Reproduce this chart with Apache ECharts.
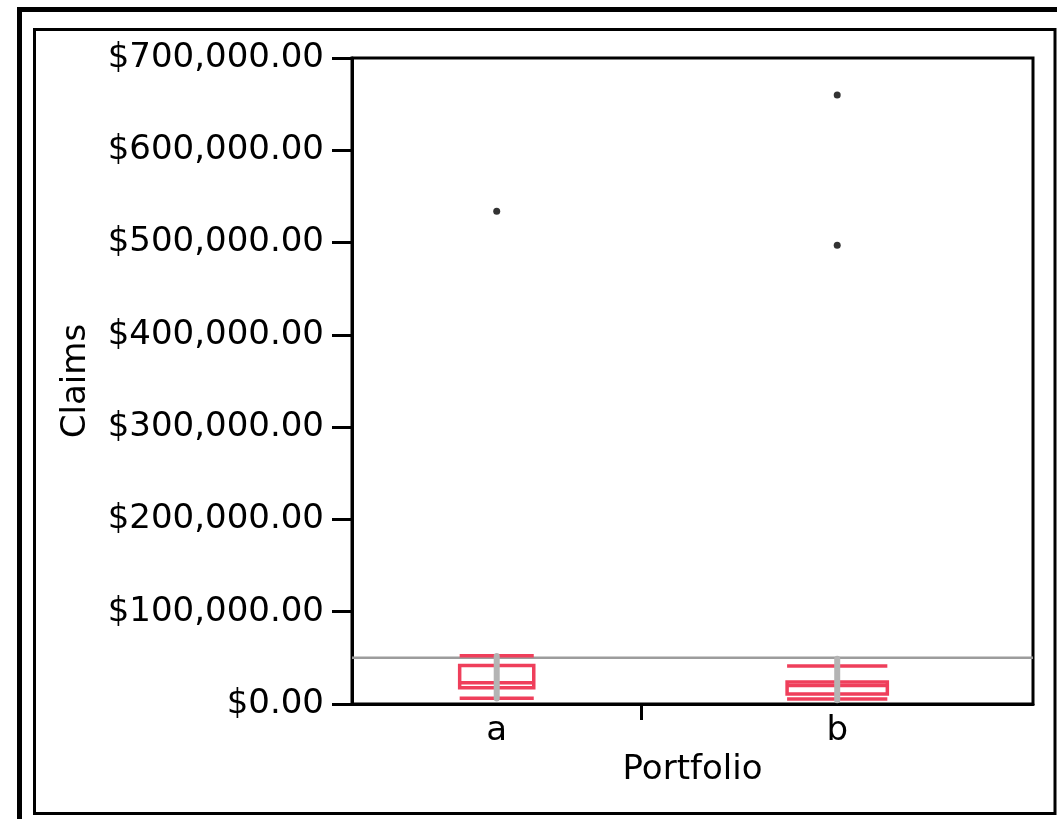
<!DOCTYPE html>
<html>
<head>
<meta charset="utf-8">
<script src="https://cdn.jsdelivr.net/npm/echarts@6/dist/echarts.min.js"></script>
<style>
  html, body { margin: 0; padding: 0; background: #fff; }
  #chart { width: 1057px; height: 819px; }
</style>
</head>
<body>
<div id="chart"></div>
<script>
// Claims by portfolio: quantile box plots, group widths proportional to group size
const categories = ['a', 'b'];
const groupCounts = [17, 23];
const p10 = [6100, 5400];
const q1 = [17700, 10900];
const median = [23100, 20100];
const q3 = [41800, 23900];
const p90 = [52200, 41300];
const pointLow = [6000, 4000];
const pointHigh = [52000, 49000];
const outlierGroup = [0, 1, 1];
const outlierValue = [534000, 660000, 497000];
const grandMean = 50000;
const yTicks = [0, 100000, 200000, 300000, 400000, 500000, 600000, 700000];

const FONT = 'DejaVu Sans';
const FS = 34;
const RED = '#EF3F5B';

// group spans along the x axis
const total = groupCounts.reduce((s, v) => s + v, 0);
const starts = [];
let acc = 0;
groupCounts.forEach(c => { starts.push(acc); acc += c; });
const centers = groupCounts.map((c, i) => starts[i] + c / 2);
const boundaries = starts.slice(1);

const boxData = categories.map((c, i) => [
  centers[i], groupCounts[i] * 0.128,
  p10[i], q1[i], median[i], q3[i], p90[i], pointLow[i], pointHigh[i]
]);
const outlierData = outlierValue.map((v, k) => [centers[outlierGroup[k]], v]);

function fmtMoney(v) {
  return '$' + v.toLocaleString('en-US', { minimumFractionDigits: 2, maximumFractionDigits: 2 });
}

function renderBox(params, api) {
  const cx = api.value(0);
  const hw = api.value(1);
  const left = api.coord([cx - hw, 0])[0];
  const right = api.coord([cx + hw, 0])[0];
  const mid = api.coord([cx, 0])[0];
  const y = k => api.coord([cx, api.value(k)])[1];
  const yP10 = y(2), yQ1 = y(3), yMed = y(4), yQ3 = y(5), yP90 = y(6), yLo = y(7), yHi = y(8);
  const red = { stroke: RED, lineWidth: 3.5, fill: null };
  const hLine = yy => ({ type: 'line', shape: { x1: left, y1: yy, x2: right, y2: yy }, style: red });
  return {
    type: 'group',
    children: [
      { type: 'line', shape: { x1: mid, y1: yP90, x2: mid, y2: yQ3 }, style: red },
      { type: 'line', shape: { x1: mid, y1: yQ1, x2: mid, y2: yP10 }, style: red },
      { type: 'rect', shape: { x: left, y: yQ3, width: right - left, height: yQ1 - yQ3 }, style: red },
      hLine(yMed),
      hLine(yP10),
      hLine(yP90),
      { type: 'line', shape: { x1: mid, y1: yHi, x2: mid, y2: yLo },
        style: { stroke: '#b4b4b4', lineWidth: 6, lineCap: 'round' } }
    ]
  };
}

const chart = echarts.init(document.getElementById('chart'), null, { renderer: 'canvas' });
chart.setOption({
  animation: false,
  backgroundColor: '#fff',
  textStyle: { fontFamily: FONT },
  graphic: [
    { type: 'rect', shape: { x: 19.5, y: 9.5, width: 1100, height: 900 },
      style: { fill: null, stroke: '#000', lineWidth: 5 }, silent: true },
    { type: 'rect', shape: { x: 34.5, y: 29.5, width: 1020.5, height: 784 },
      style: { fill: null, stroke: '#000', lineWidth: 3 }, silent: true }
  ],
  grid: {
    left: 352, right: 24, top: 58, bottom: 115,
    show: true, borderColor: '#000', borderWidth: 3, backgroundColor: 'transparent'
  },
  xAxis: {
    type: 'value',
    min: 0,
    max: total,
    name: 'Portfolio',
    nameLocation: 'middle',
    nameGap: 46,
    nameTextStyle: { fontSize: FS, color: '#000', fontFamily: FONT },
    axisLine: { show: true, lineStyle: { color: '#000', width: 3 } },
    axisTick: { show: true, customValues: boundaries, length: 16, lineStyle: { color: '#000', width: 3 } },
    axisLabel: {
      customValues: centers,
      margin: 10,
      fontSize: FS, color: '#000', fontFamily: FONT,
      formatter: v => {
        const i = centers.findIndex(c => Math.abs(c - v) < 1e-6);
        return i >= 0 ? categories[i] : '';
      }
    },
    splitLine: { show: false }
  },
  yAxis: {
    type: 'value',
    min: yTicks[0],
    max: yTicks[yTicks.length - 1],
    interval: yTicks[1] - yTicks[0],
    name: 'Claims',
    nameLocation: 'middle',
    nameGap: 259,
    nameTextStyle: { fontSize: FS, color: '#000', fontFamily: FONT },
    axisLine: { show: true, lineStyle: { color: '#000', width: 3 } },
    axisTick: { show: true, length: 20, lineStyle: { color: '#000', width: 3 } },
    axisLabel: { margin: 28, fontSize: FS, color: '#000', fontFamily: FONT, formatter: fmtMoney },
    splitLine: { show: false }
  },
  series: [
    {
      name: 'Grand mean',
      type: 'line',
      data: [[0, grandMean], [total, grandMean]],
      symbol: 'none',
      lineStyle: { color: '#9c9c9c', width: 2.5 },
      z: 1
    },
    {
      name: 'Quantiles',
      type: 'custom',
      renderItem: renderBox,
      data: boxData,
      encode: { x: 0, y: [2, 3, 4, 5, 6] },
      z: 2
    },
    {
      name: 'Outliers',
      type: 'scatter',
      data: outlierData,
      symbol: 'circle',
      symbolSize: 7,
      itemStyle: { color: '#000' },
      z: 3
    }
  ]
});
</script>
</body>
</html>
